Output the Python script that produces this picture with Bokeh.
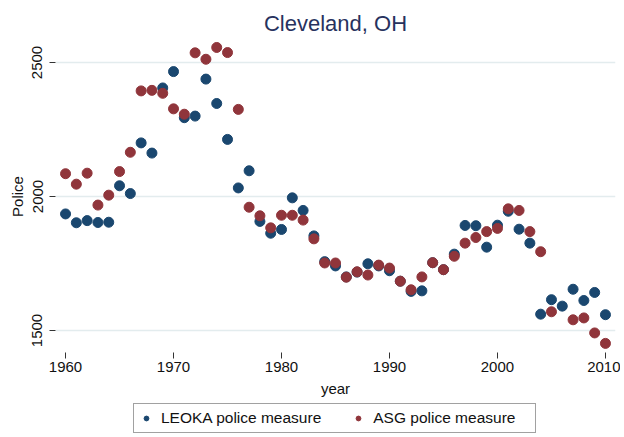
import math
from bokeh.plotting import figure
from bokeh.layouts import column
from bokeh.models import ColumnDataSource, Range1d, FixedTicker, Legend, LegendItem
from bokeh.embed import file_html
from bokeh.resources import INLINE

years = list(range(1960, 2011))
leoka = [1935, 1902, 1910, 1903, 1904, 2040, 2011, 2200, 2162, 2405,
         2466, 2294, 2300, 2438, 2347, 2213, 2032, 2096, 1907, 1863,
         1877, 1995, 1948, 1853, 1757, 1741, 1700, 1718, 1749, 1741,
         1723, 1684, 1646, 1648, 1753, 1727, 1785, 1892, 1891, 1811,
         1893, 1945, 1878, 1826, 1561, 1615, 1591, 1654, 1612, 1642,
         1559]
asg = [2085, 2046, 2087, 1968, 2005, 2093, 2165, 2394, 2396, 2385,
       2327, 2307, 2536, 2512, 2556, 2537, 2325, 1960, 1928, 1883,
       1930, 1930, 1912, 1842, 1752, 1752, 1699, 1719, 1707, 1744,
       1733, 1684, 1652, 1700, 1753, 1727, 1777, 1826, 1847, 1869,
       1881, 1954, 1948, 1869, 1794, 1570, float("nan"), 1540, 1547, 1491,
       1452]
x_ticks = [1960, 1970, 1980, 1990, 2000, 2010]
y_ticks = [1500, 2000, 2500]
labels = ["LEOKA police measure", "ASG police measure"]

FONT = "Liberation Sans"
BLUE = "#1a476f"
RED = "#90353b"

src = ColumnDataSource(dict(year=years, leoka=leoka, asg=asg))

p = figure(width=620, height=400, output_backend="svg", toolbar_location=None,
           x_range=Range1d(1959.07, 2010.93), y_range=Range1d(1418, 2582),
           title="Cleveland, OH", min_border_left=55, min_border_right=5,
           min_border_top=40, min_border_bottom=48)
p.outline_line_color = None
p.background_fill_color = "white"
p.border_fill_color = "white"

p.title.align = "center"
p.title.text_font = FONT
p.title.text_font_size = "22px"
p.title.text_font_style = "normal"
p.title.text_color = "#27325e"
p.title.standoff = 10

p.scatter("year", "leoka", source=src, size=10, color=BLUE, line_color=BLUE)
p.scatter("year", "asg", source=src, size=10, color=RED, line_color=RED)

for ax in (p.xaxis[0], p.yaxis[0]):
    ax.axis_line_color = None
    ax.major_tick_in = 0
    ax.major_tick_out = 6
    ax.major_tick_line_color = "#333333"
    ax.minor_tick_line_color = None
    ax.major_label_text_font = FONT
    ax.major_label_text_font_size = "15px"
    ax.major_label_text_color = "#111111"
    ax.axis_label_text_font = FONT
    ax.axis_label_text_font_size = "15px"
    ax.axis_label_text_font_style = "normal"
    ax.axis_label_text_color = "#111111"

p.xaxis.ticker = FixedTicker(ticks=x_ticks)
p.yaxis.ticker = FixedTicker(ticks=y_ticks)
p.xaxis.axis_label = "year"
p.yaxis.axis_label = "Police"
p.yaxis.major_label_orientation = "vertical"
p.xaxis.major_label_standoff = 3
p.yaxis.major_label_standoff = 7
p.xaxis.axis_label_standoff = 5
p.yaxis.axis_label_standoff = 4

p.xgrid.grid_line_color = None
p.ygrid.grid_line_color = "#e3ecee"
p.ygrid.grid_line_width = 1.5

# legend strip below the chart
lg = figure(width=620, height=36, output_backend="svg", toolbar_location=None,
            x_range=Range1d(0, 1), y_range=Range1d(0, 1),
            x_axis_location=None, y_axis_location=None,
            min_border_left=55, min_border_right=5,
            min_border_top=0, min_border_bottom=0)
lg.outline_line_color = None
lg.grid.grid_line_color = None
l1 = lg.scatter("year", "leoka", source=src, size=10, color=BLUE, line_color=BLUE)
l2 = lg.scatter("year", "asg", source=src, size=10, color=RED, line_color=RED)

legend = Legend(items=[LegendItem(label=labels[0], renderers=[l1]),
                       LegendItem(label=labels[1], renderers=[l2])],
                orientation="horizontal", location=(78, 3))
legend.label_text_font = FONT
legend.label_text_font_size = "15.5px"
legend.label_text_color = "#111111"
legend.border_line_color = "#444444"
legend.border_line_width = 1
legend.background_fill_alpha = 1
legend.padding = 5
legend.spacing = 30
legend.glyph_width = 14
legend.glyph_height = 12
legend.label_standoff = 8
legend.label_width = 157
legend.margin = 0
lg.add_layout(legend)

layout = column(p, lg, spacing=0)
open("out.html", "w").write(file_html(layout, INLINE))
